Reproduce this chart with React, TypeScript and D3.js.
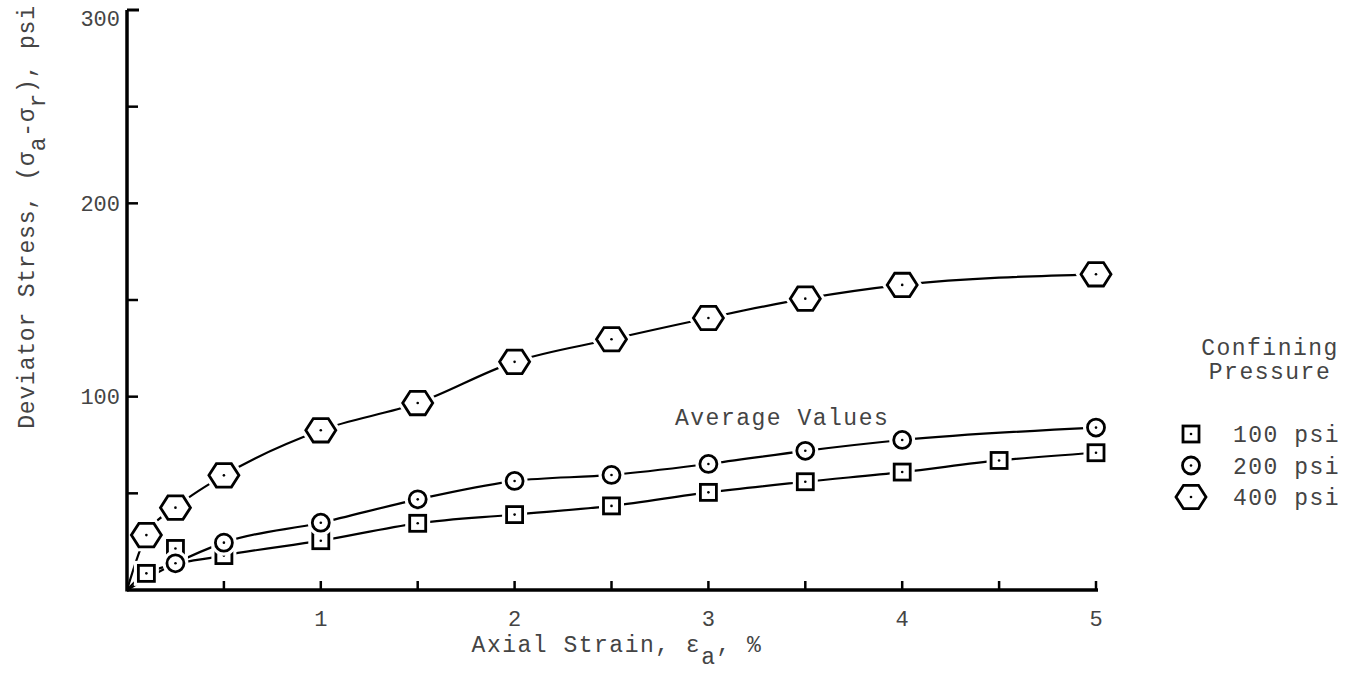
import * as d3 from 'd3';

// strain (%) and deviator stress (psi)
const strain100 = [0, 0.1, 0.25, 0.5, 1, 1.5, 2, 2.5, 3, 3.5, 4, 4.5, 5];
const stress100 = [0, 8.6, 21.5, 17.8, 25.5, 34.5, 39, 43.5, 50.5, 56, 61, 67, 71];
const strain200 = [0, 0.25, 0.5, 1, 1.5, 2, 2.5, 3, 3.5, 4, 5];
const stress200 = [0, 13.8, 24.5, 34.8, 46.9, 56.4, 59.5, 65.2, 72, 77.6, 84];
const strain400 = [0, 0.1, 0.25, 0.5, 1, 1.5, 2, 2.5, 3, 3.5, 4, 5];
const stress400 = [0, 28.4, 42.6, 59.3, 82.6, 96.7, 118, 129.7, 140.7, 150.7, 157.8, 163.3];
// the 0.25% point of the 100 psi test sits off the faired curve
const skip100 = [0.25];

const xTicks = [1, 2, 3, 4, 5];
const xMinor = [0.5, 1, 1.5, 2, 2.5, 3, 3.5, 4, 4.5, 5];
const yTicks = [100, 200, 300];
const yMinor = [50, 100, 150, 200, 250];
const legendLabels = ['100 psi', '200 psi', '400 psi'];

const W = 1350, H = 687;
const FONT = '"Liberation Mono", "DejaVu Sans Mono", monospace';
const TXT = '#444';

const x = d3.scaleLinear().domain([0, 5]).range([127, 1096]);
const y = d3.scaleLinear().domain([0, 300]).range([590, 10]);

const pts = (xs: number[], ys: number[]) => xs.map((v, i) => ({ x: v, y: ys[i] }));

const s100 = pts(strain100, stress100);
const s200 = pts(strain200, stress200);
const s400 = pts(strain400, stress400);

const line = d3.line<{ x: number; y: number }>()
  .x(d => x(d.x))
  .y(d => y(d.y))
  .curve(d3.curveMonotoneX);

function hexPath(r: number) {
  const p = d3.range(6).map(i => {
    const a = (Math.PI / 3) * i;
    return [r * Math.cos(a), r * 0.9 * Math.sin(a)];
  });
  return 'M' + p.map(q => q.join(',')).join('L') + 'Z';
}

function Marker({ kind, cx, cy }: { kind: number; cx: number; cy: number }) {
  const sw = 2.8;
  let shape;
  let halo;
  if (kind === 0) {
    shape = <rect x={-8} y={-8} width={16} height={16} fill="#fff" stroke="#000" strokeWidth={sw} />;
    halo = <rect x={-8} y={-8} width={16} height={16} fill="#fff" stroke="#fff" strokeWidth={9} />;
  } else if (kind === 1) {
    shape = <circle r={8.5} fill="#fff" stroke="#000" strokeWidth={sw} />;
    halo = <circle r={8.5} fill="#fff" stroke="#fff" strokeWidth={9} />;
  } else {
    shape = <path d={hexPath(15)} fill="#fff" stroke="#000" strokeWidth={sw} />;
    halo = <path d={hexPath(15)} fill="#fff" stroke="#fff" strokeWidth={9} />;
  }
  return (
    <g transform={`translate(${cx},${cy})`}>
      {halo}
      {shape}
      <circle r={1.3} fill="#000" />
    </g>
  );
}

export default function App() {
  const series = [
    { data: s100, kind: 0, lineData: s100.filter(d => !skip100.includes(d.x)) },
    { data: s200, kind: 1, lineData: s200 },
    { data: s400, kind: 2, lineData: s400 },
  ];
  const legX = 1191;
  const legY = (i: number) => 434 + i * 31.5;
  return (
    <svg width={W} height={H} style={{ position: 'absolute', left: 0, top: 0, background: '#fff' }}>
      {/* curves */}
      {series.map((s, i) => (
        <path key={i} d={line(s.lineData) || ''} fill="none" stroke="#000" strokeWidth={2.2} />
      ))}
      {/* markers */}
      {series.map(s =>
        s.data.filter(d => d.x > 0).map((d, j) => (
          <Marker key={s.kind + '-' + j} kind={s.kind} cx={x(d.x)} cy={y(d.y)} />
        ))
      )}

      {/* axes */}
      <line x1={x(0)} x2={x(0)} y1={y(0) + 1.5} y2={y(300)} stroke="#000" strokeWidth={3.5} />
      <line x1={x(0)} x2={x(5) + 2} y1={y(0)} y2={y(0)} stroke="#000" strokeWidth={3.5} />
      <line x1={x(0)} x2={x(0) + 12} y1={y(300)} y2={y(300)} stroke="#000" strokeWidth={3} />
      {yMinor.map(v => (
        <line key={v} x1={x(0)} x2={x(0) + 11} y1={y(v)} y2={y(v)} stroke="#000" strokeWidth={2.5} />
      ))}
      {xMinor.map(v => (
        <line key={v} x1={x(v)} x2={x(v)} y1={y(0)} y2={y(0) - 9} stroke="#000" strokeWidth={2.5} />
      ))}

      <g fontFamily={FONT} fill={TXT}>
        <g fontSize={22}>
          {yTicks.map(v => (
            <text key={v} x={x(0) - 7} y={y(v) + (v === 300 ? 8 : 0)} dy="0.35em" textAnchor="end">{v}</text>
          ))}
          {xTicks.map(v => (
            <text key={v} x={x(v)} y={626} textAnchor="middle">{v}</text>
          ))}
        </g>
        <g fontSize={23} letterSpacing={1.5}>
          <text x={617} y={652} textAnchor="middle">
            Axial Strain, ε<tspan dy={12}>a</tspan><tspan dy={-12}>, %</tspan>
          </text>
          <text transform="translate(34,217) rotate(-90)" textAnchor="middle" letterSpacing={0.8}>
            Deviator Stress, (σ<tspan dy={11}>a</tspan><tspan dy={-11}>-σ</tspan><tspan dy={11}>r</tspan><tspan dy={-11}>), psi</tspan>
          </text>
          <text x={675} y={425}>Average Values</text>

          <text x={1270} y={355} textAnchor="middle">Confining</text>
          <text x={1270} y={379} textAnchor="middle">Pressure</text>
          {legendLabels.map((l, i) => (
            <text key={l} x={1233} y={legY(i)} dy="0.35em">{l}</text>
          ))}
        </g>
      </g>
      {legendLabels.map((l, i) => (
        <Marker key={l} kind={i} cx={legX} cy={legY(i)} />
      ))}
    </svg>
  );
}
